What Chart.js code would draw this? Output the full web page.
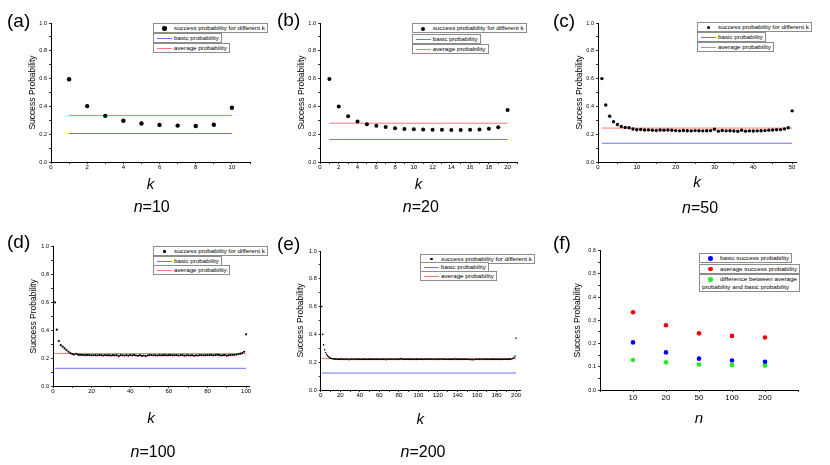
<!DOCTYPE html>
<html>
<head>
<meta charset="utf-8">
<title>Success probability</title>
<script src="https://cdn.jsdelivr.net/npm/chart.js@4.4.0/dist/chart.umd.min.js"></script>
<style>
  body { margin: 0; background: #fff; width: 830px; height: 465px; position: relative; overflow: hidden;
         font-family: "Liberation Sans", Arial, sans-serif; color: #000; }
  .panel { position: absolute; }
  .panel canvas { position: absolute; left: 0; top: 0; }
  .tag { position: absolute; font-size: 19px; line-height: 19px; white-space: nowrap; }
  .caption { position: absolute; font-size: 16px; line-height: 16px; transform: translate(-50%, -50%); white-space: nowrap; }
  .legend { position: absolute; }
  .leg-item { position: absolute; left: 0; border: 1px solid #8c8c8c; background: #fff; font-size: 6.25px;
              line-height: 8px; height: 8px; padding: 0 2px 0 20px; white-space: nowrap; }
  .leg-item.multi { height: 16px; padding-left: 2px; text-indent: 18px; white-space: pre; }
  .leg-mark { position: absolute; left: 3px; top: 0; width: 15px; height: 8px; }
</style>
</head>
<body>
<script>
// success probability for different k, one list per n
const probN10 = [0.595, 0.402, 0.332, 0.297, 0.277, 0.267, 0.262, 0.259, 0.268, 0.390];

const probN20 = [0.597, 0.400, 0.330, 0.291, 0.272, 0.260, 0.252, 0.243, 0.238, 0.236,
                 0.233, 0.232, 0.232, 0.230, 0.230, 0.232, 0.233, 0.240, 0.250, 0.375];

const probN50 = [0.600, 0.410, 0.330, 0.290, 0.270, 0.256, 0.249, 0.246, 0.237, 0.232,
                 0.234, 0.230, 0.231, 0.229, 0.227, 0.230, 0.229, 0.230, 0.228, 0.226,
                 0.224, 0.227, 0.225, 0.224, 0.226, 0.225, 0.224, 0.225, 0.226, 0.236,
                 0.222, 0.227, 0.224, 0.225, 0.223, 0.221, 0.229, 0.222, 0.224, 0.223,
                 0.224, 0.225, 0.226, 0.229, 0.230, 0.232, 0.233, 0.238, 0.246, 0.368];

const probN100 = [0.600, 0.404, 0.323, 0.294, 0.282, 0.270, 0.258, 0.246, 0.236, 0.229,
                  0.226, 0.231, 0.225, 0.223, 0.224, 0.222, 0.221, 0.223, 0.222, 0.220,
                  0.222, 0.221, 0.220, 0.222, 0.221, 0.219, 0.222, 0.220, 0.221, 0.219,
                  0.221, 0.220, 0.222, 0.214, 0.221, 0.220, 0.219, 0.222, 0.218, 0.221,
                  0.220, 0.223, 0.219, 0.217, 0.221, 0.216, 0.219, 0.215, 0.220, 0.221,
                  0.222, 0.220, 0.221, 0.219, 0.222, 0.220, 0.221, 0.222, 0.220, 0.221,
                  0.222, 0.220, 0.221, 0.222, 0.219, 0.221, 0.223, 0.218, 0.220, 0.221,
                  0.219, 0.221, 0.217, 0.220, 0.219, 0.221, 0.222, 0.220, 0.221, 0.222,
                  0.221, 0.223, 0.220, 0.222, 0.224, 0.223, 0.219, 0.221, 0.222, 0.218,
                  0.221, 0.222, 0.224, 0.223, 0.226, 0.228, 0.232, 0.236, 0.246, 0.371];

const probN200 = [0.600, 0.400, 0.325, 0.290, 0.270, 0.257, 0.247, 0.239, 0.233, 0.229,
                  0.227, 0.225, 0.224, 0.223, 0.222, 0.223, 0.221, 0.222, 0.220, 0.222,
                  0.221, 0.222, 0.220, 0.221, 0.219, 0.222, 0.221, 0.220, 0.218, 0.221,
                  0.222, 0.220, 0.221, 0.219, 0.222, 0.221, 0.220, 0.222, 0.221, 0.220,
                  0.221, 0.219, 0.222, 0.221, 0.220, 0.222, 0.221, 0.219, 0.220, 0.222,
                  0.221, 0.220, 0.222, 0.221, 0.219, 0.221, 0.222, 0.220, 0.221, 0.222,
                  0.219, 0.221, 0.220, 0.222, 0.221, 0.220, 0.218, 0.221, 0.222, 0.220,
                  0.221, 0.222, 0.220, 0.221, 0.219, 0.222, 0.221, 0.220, 0.222, 0.221,
                  0.220, 0.226, 0.221, 0.222, 0.220, 0.221, 0.219, 0.222, 0.221, 0.220,
                  0.222, 0.221, 0.220, 0.221, 0.222, 0.219, 0.221, 0.220, 0.222, 0.221,
                  0.220, 0.221, 0.222, 0.220, 0.219, 0.221, 0.222, 0.221, 0.220, 0.222,
                  0.221, 0.220, 0.222, 0.221, 0.219, 0.220, 0.221, 0.222, 0.220, 0.221,
                  0.222, 0.220, 0.221, 0.223, 0.221, 0.220, 0.222, 0.221, 0.219, 0.221,
                  0.220, 0.222, 0.221, 0.220, 0.222, 0.221, 0.219, 0.224, 0.221, 0.220,
                  0.222, 0.221, 0.220, 0.221, 0.222, 0.219, 0.221, 0.220, 0.222, 0.221,
                  0.220, 0.219, 0.221, 0.218, 0.220, 0.217, 0.219, 0.221, 0.220, 0.222,
                  0.221, 0.220, 0.222, 0.221, 0.219, 0.221, 0.222, 0.220, 0.221, 0.222,
                  0.220, 0.221, 0.219, 0.222, 0.221, 0.220, 0.222, 0.221, 0.220, 0.221,
                  0.222, 0.220, 0.221, 0.219, 0.222, 0.221, 0.220, 0.221, 0.222, 0.220,
                  0.221, 0.222, 0.220, 0.222, 0.223, 0.225, 0.228, 0.233, 0.245, 0.372];

// panel (f) and the horizontal lines
const nLabels = ['10', '20', '50', '100', '200'];
const basicProb = [0.205, 0.162, 0.135, 0.127, 0.122];
const averageProb = [0.335, 0.279, 0.244, 0.233, 0.226];
const diffProb = [0.129, 0.119, 0.110, 0.107, 0.105];

const FONT = '"Liberation Sans", Arial, sans-serif';
Chart.defaults.font.family = FONT;
Chart.defaults.color = '#000';

const BLUE_LINE = '#6f6fff';
const RED_LINE = '#ff7878';

// html legend, one bordered box per entry
const htmlLegend = {
  id: 'htmlLegend',
  afterUpdate(chart, args, opts) {
    const box = opts.container;
    box.innerHTML = '';
    chart.data.datasets.forEach((ds, i) => {
      const item = document.createElement('div');
      item.className = 'leg-item' + (ds.label.includes('\n') ? ' multi' : '');
      item.style.top = (i * opts.gap) + 'px';
      const mark = document.createElement('div');
      mark.className = 'leg-mark';
      if (ds.showLine) {
        const ln = document.createElement('div');
        ln.style.cssText = 'position:absolute;left:0;top:4px;width:15px;height:1px;background:' + ds.borderColor;
        mark.appendChild(ln);
      } else {
        const r = Math.max(ds.pointRadius, 1.1);
        const dot = document.createElement('div');
        dot.style.cssText = 'position:absolute;border-radius:50%;left:' + (7.5 - r) + 'px;top:' + (4.5 - r) +
          'px;width:' + (2 * r) + 'px;height:' + (2 * r) + 'px;background:' + ds.backgroundColor;
        mark.appendChild(dot);
      }
      item.appendChild(mark);
      item.appendChild(document.createTextNode(ds.label));
      box.appendChild(item);
    });
  }
};

function dots(values, label, color, r) {
  return {
    label: label,
    data: values.map((v, i) => ({ x: i + 1, y: v })),
    backgroundColor: color, borderWidth: 0, pointRadius: r, showLine: false
  };
}

function hLine(y, n, label, color) {
  return {
    label: label,
    data: [{ x: 1, y: y }, { x: n, y: y }],
    borderColor: color, borderWidth: 1, pointRadius: 0, showLine: true
  };
}

const panels = [
  { tag: '(a)', n: 10, values: probN10, idx: 0, left: 0, top: 0, w: 270, h: 225,
    area: { left: 51, right: 250, top: 23, bottom: 162 }, yTitleX: 33, kY: 185,
    xMax: 11, xStep: 1, xLabelStep: 2, r: 2.2, legend: { left: 153, top: 23, gap: 10 },
    tagPos: [7, 10.5], capPos: [151.7, 207] },
  { tag: '(b)', n: 20, values: probN20, idx: 1, left: 270, top: 0, w: 270, h: 225,
    area: { left: 50, right: 247, top: 23, bottom: 162 }, yTitleX: 32, kY: 185,
    xMax: 21, xStep: 1, xLabelStep: 2, r: 2.0, legend: { left: 141.7, top: 23, gap: 10.5 },
    tagPos: [7, 10], capPos: [150.8, 207] },
  { tag: '(c)', n: 50, values: probN50, idx: 2, left: 540, top: 0, w: 290, h: 225,
    area: { left: 58, right: 256, top: 23, bottom: 162 }, yTitleX: 40, kY: 183,
    xMax: 51, xStep: 5, xLabelStep: 10, r: 1.7, legend: { left: 157, top: 22, gap: 10 },
    tagPos: [13, 10.5], capPos: [160, 208] },
  { tag: '(d)', n: 100, values: probN100, idx: 3, left: 0, top: 225, w: 270, h: 240,
    area: { left: 53, right: 249, top: 21.7, bottom: 161 }, yTitleX: 34, kY: 194,
    xMax: 101.5, xStep: 10, xLabelStep: 20, r: 1.1, legend: { left: 153, top: 21, gap: 9.5 },
    tagPos: [7, 6.5], capPos: [153, 226.7] },
  { tag: '(e)', n: 200, values: probN200, idx: 4, left: 270, top: 225, w: 270, h: 240,
    area: { left: 50.7, right: 250, top: 26, bottom: 165 }, yTitleX: 31, kY: 195,
    xMax: 204, xStep: 10, xLabelStep: 20, r: 0.8, legend: { left: 150, top: 28.7, gap: 8.7 },
    tagPos: [7, 8.5], capPos: [153, 227] }
];

function makePanel(p, datasets, xScale, yScale, titleText, legendCfg) {
  const div = document.createElement('div');
  div.className = 'panel';
  div.style.cssText = 'left:' + p.left + 'px;top:' + p.top + 'px;width:' + p.w + 'px;height:' + p.h + 'px';
  const canvas = document.createElement('canvas');
  canvas.width = p.w;
  canvas.height = p.h;
  div.appendChild(canvas);

  const tag = document.createElement('div');
  tag.className = 'tag';
  tag.style.left = p.tagPos[0] + 'px';
  tag.style.top = p.tagPos[1] + 'px';
  tag.textContent = p.tag;
  div.appendChild(tag);

  if (p.caption) {
    const cap = document.createElement('div');
    cap.className = 'caption';
    cap.style.left = p.capPos[0] + 'px';
    cap.style.top = p.capPos[1] + 'px';
    cap.innerHTML = '<i>n</i>=' + p.caption;
    div.appendChild(cap);
  }

  const leg = document.createElement('div');
  leg.className = 'legend';
  leg.style.left = legendCfg.left + 'px';
  leg.style.top = legendCfg.top + 'px';
  div.appendChild(leg);
  document.body.appendChild(div);

  const yTitleLh = 8.5 * 1.2;
  const xTitleLh = 15 * 1.2;
  const padLeft = p.yTitleX - yTitleLh / 2;
  const xh = p.kY - p.area.bottom + xTitleLh / 2;
  const padBottom = p.h - p.area.bottom - xh;

  const axisCommon = {
    grid: { drawOnChartArea: false, drawTicks: true, tickLength: 2, color: '#000', lineWidth: 0.8 },
    border: { display: true, color: '#000', width: 1 }
  };

  new Chart(canvas, {
    type: 'scatter',
    data: { datasets: datasets },
    options: {
      responsive: false,
      animation: false,
      events: [],
      layout: { padding: { left: padLeft, top: p.area.top, right: p.w - p.area.right, bottom: padBottom } },
      plugins: {
        legend: { display: false },
        tooltip: { enabled: false },
        htmlLegend: { container: leg, gap: legendCfg.gap }
      },
      scales: {
        x: Object.assign({}, axisCommon, xScale, {
          title: { display: true, text: titleText, padding: 0,
                   font: { size: 15, style: 'italic', family: FONT } },
          afterFit: (s) => { s.height = xh; }
        }),
        y: Object.assign({}, axisCommon, yScale, {
          title: { display: true, text: 'Success Probability', padding: 0, font: { size: 8.5, family: FONT } },
          afterFit: (s) => { s.width = p.area.left - padLeft; }
        })
      }
    },
    plugins: [htmlLegend]
  });
}

const yProb = {
  min: 0, max: 1,
  ticks: {
    stepSize: 0.1, padding: 2, font: { size: 5.5 },
    callback: (v) => (Math.round(v * 10) % 2 === 0 ? v.toFixed(1) : '')
  }
};

panels.forEach((p) => {
  p.caption = String(p.n);
  const datasets = [
    dots(p.values, 'success probability for different k', '#000', p.r),
    hLine(basicProb[p.idx], p.n, 'basic probability', BLUE_LINE),
    hLine(averageProb[p.idx], p.n, 'average probability', RED_LINE)
  ];
  const xScale = {
    type: 'linear', min: 0, max: p.xMax,
    ticks: {
      stepSize: p.xStep, includeBounds: false, autoSkip: false, maxRotation: 0, padding: 0,
      font: { size: 6 },
      callback: (v) => (Math.round(v) % p.xLabelStep === 0 ? String(v) : '')
    }
  };
  makePanel(p, datasets, xScale, yProb, 'k', p.legend);
});

// panel (f): probabilities against n
const panelF = { tag: '(f)', left: 540, top: 225, w: 290, h: 240,
  area: { left: 60, right: 258, top: 25.7, bottom: 165 }, yTitleX: 38, kY: 194,
  tagPos: [13, 7.5] };

makePanel(panelF, [
  dots(basicProb, 'basic success probability', '#0000ff', 2.3),
  dots(averageProb, 'average success probability', '#ff0000', 2.3),
  dots(diffProb, 'difference between average\nprobability and basic probability', '#22ee22', 2.3)
], {
  type: 'linear', min: 0, max: 6,
  ticks: {
    stepSize: 1, autoSkip: false, maxRotation: 0, padding: 1, font: { size: 8 },
    callback: (v) => nLabels[v - 1] || ''
  }
}, {
  min: 0, max: 0.6,
  ticks: {
    stepSize: 0.05, padding: 2, font: { size: 5.5 },
    callback: (v) => (Math.round(v * 20) % 2 === 0 ? v.toFixed(1) : '')
  }
}, 'n', { left: 159, top: 28, gap: 10.5 });
</script>
</body>
</html>
